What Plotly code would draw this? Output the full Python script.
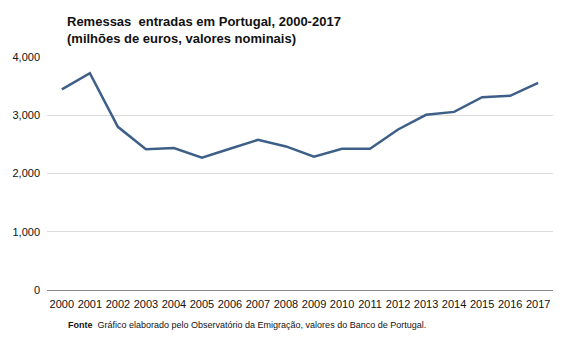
import plotly.graph_objects as go

years = [str(y) for y in range(2000, 2018)]
values = [3443, 3722, 2801, 2418, 2436, 2270, 2424, 2578, 2465, 2287,
          2424, 2424, 2756, 3007, 3058, 3310, 3333, 3556]
y_ticks = [0, 1000, 2000, 3000, 4000]
y_tick_labels = ["0", "1,000", "2,000", "3,000", "4,000"]

x_idx = list(range(len(years)))

fig = go.Figure()
fig.add_trace(go.Scatter(
    x=x_idx, y=values, mode="lines",
    line=dict(color="#3e5f88", width=2.5),
    hoverinfo="skip", showlegend=False,
))

fig.update_layout(
    width=567, height=340,
    margin=dict(l=44, r=14, t=57, b=50),
    paper_bgcolor="white", plot_bgcolor="white",
    font=dict(family="Liberation Sans, Arial, sans-serif", color="#222222"),
    xaxis=dict(
        range=[-0.53, 17.53], tickvals=x_idx, ticktext=years,
        showgrid=False, showline=False, zeroline=False,
        ticks="", tickfont=dict(size=11, color="#111111"),
        ticklabelstandoff=6,
        fixedrange=True,
    ),
    yaxis=dict(
        range=[0, 4000], tickvals=y_ticks, ticktext=y_tick_labels,
        showgrid=True, gridcolor="#dcdcdc", gridwidth=1,
        zeroline=True, zerolinecolor="#888888", zerolinewidth=1,
        showline=False, ticks="", ticklen=0,
        tickfont=dict(size=11, color="#111111"),
        ticklabelstandoff=6,
        fixedrange=True,
    ),
    annotations=[
        dict(text="<b>Remessas  entradas em Portugal, 2000-2017<br>(milhões de euros, valores nominais)</b>",
             xref="paper", yref="paper", x=0.035, y=1.0, yshift=45,
             xanchor="left", yanchor="top", align="left", showarrow=False,
             font=dict(size=13, color="#111111")),
        dict(text="<b>Fonte</b>  Gráfico elaborado pelo Observatório da Emigração, valores do Banco de Portugal.",
             xref="paper", yref="paper", x=0.037, y=0, yshift=-28,
             xanchor="left", yanchor="top", align="left", showarrow=False,
             font=dict(size=9, color="#111111")),
    ],
)

fig.write_html("out.html")
